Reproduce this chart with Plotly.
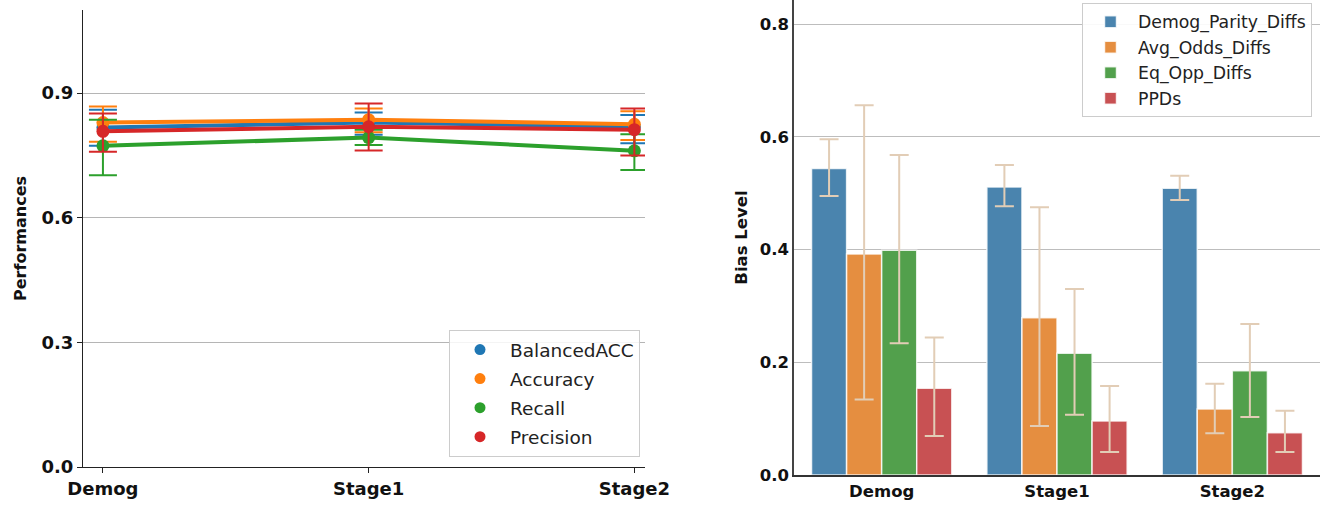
import plotly.graph_objects as go

stages = ["Demog", "Stage1", "Stage2"]

# Left panel: performance metrics (mean, upper, lower)
perf_names = ["BalancedACC", "Accuracy", "Recall", "Precision"]
perf_colors = ["#1f77b4", "#ff7f0e", "#2ca02c", "#d62728"]
bal_acc = [0.817, 0.829, 0.819]
bal_acc_hi = [0.860, 0.853, 0.847]
bal_acc_lo = [0.773, 0.800, 0.779]
accuracy = [0.829, 0.836, 0.825]
accuracy_hi = [0.868, 0.863, 0.856]
accuracy_lo = [0.783, 0.806, 0.787]
recall = [0.773, 0.793, 0.761]
recall_hi = [0.836, 0.812, 0.801]
recall_lo = [0.702, 0.775, 0.715]
precision = [0.808, 0.819, 0.812]
precision_hi = [0.851, 0.875, 0.863]
precision_lo = [0.759, 0.762, 0.750]

# Right panel: bias levels (mean, upper, lower)
bias_names = ["Demog_Parity_Diffs", "Avg_Odds_Diffs", "Eq_Opp_Diffs", "PPDs"]
bias_colors = ["#4a84ae", "#e58e40", "#52a04c", "#c85153"]
demog_parity = [0.544, 0.511, 0.509]
demog_parity_hi = [0.596, 0.550, 0.531]
demog_parity_lo = [0.495, 0.477, 0.488]
avg_odds = [0.392, 0.279, 0.117]
avg_odds_hi = [0.656, 0.475, 0.162]
avg_odds_lo = [0.134, 0.087, 0.074]
eq_opp = [0.399, 0.216, 0.185]
eq_opp_hi = [0.568, 0.330, 0.268]
eq_opp_lo = [0.234, 0.107, 0.103]
ppds = [0.154, 0.096, 0.075]
ppds_hi = [0.244, 0.158, 0.114]
ppds_lo = [0.069, 0.041, 0.041]

perf = [(bal_acc, bal_acc_hi, bal_acc_lo), (accuracy, accuracy_hi, accuracy_lo),
        (recall, recall_hi, recall_lo), (precision, precision_hi, precision_lo)]
bias = [(demog_parity, demog_parity_hi, demog_parity_lo), (avg_odds, avg_odds_hi, avg_odds_lo),
        (eq_opp, eq_opp_hi, eq_opp_lo), (ppds, ppds_hi, ppds_lo)]

FONT = "DejaVu Sans"
fig = go.Figure()

xi = list(range(len(stages)))
for name, color, (m, hi, lo) in zip(perf_names, perf_colors, perf):
    fig.add_trace(go.Scatter(
        x=xi, y=m, mode="lines+markers", xaxis="x", yaxis="y",
        line=dict(color=color, width=4), marker=dict(color=color, size=13),
        error_y=dict(type="data", symmetric=False,
                     array=[h - v for h, v in zip(hi, m)],
                     arrayminus=[v - l for v, l in zip(m, lo)],
                     color=color, thickness=2, width=14),
        showlegend=False, name=name))
for name, color in zip(perf_names, perf_colors):
    fig.add_trace(go.Scatter(x=[None], y=[None], mode="markers", xaxis="x", yaxis="y",
                             marker=dict(color=color, size=11), name=name,
                             legend="legend", legendgroup="p_" + name))

for name, color, (m, hi, lo) in zip(bias_names, bias_colors, bias):
    fig.add_trace(go.Bar(
        x=xi, y=m, xaxis="x2", yaxis="y2", name=name, legend="legend2", legendgroup="b_" + name,
        marker=dict(color=color, line=dict(color="rgba(255,255,255,0.8)", width=1.5)),
        error_y=dict(type="data", symmetric=False,
                     array=[h - v for h, v in zip(hi, m)],
                     arrayminus=[v - l for v, l in zip(m, lo)],
                     color="#e2cdb6", thickness=2, width=9.5)))

tickfont = dict(family=FONT, size=18, color="#111", weight="bold")
tickfont2 = dict(family=FONT, size=16.5, color="#111", weight="bold")
fig.update_layout(
    width=1327, height=508, margin=dict(l=0, r=0, t=0, b=0),
    plot_bgcolor="white", paper_bgcolor="white",
    barmode="group", bargap=0.2, bargroupgap=0,
    font=dict(family=FONT),
    xaxis=dict(domain=[83/1327, 645/1327], range=[-0.075, 2.04], tickvals=xi, ticktext=stages,
               anchor="y", automargin=False,
               showgrid=False, showline=True, linecolor="#222", linewidth=1.2,
               ticks="outside", ticklen=5, tickcolor="#222", tickfont=tickfont, zeroline=False),
    yaxis=dict(domain=[(508-467)/508, (508-10)/508], range=[0, 1.1], anchor="x", automargin=False,
               tickvals=[0, 0.3, 0.6, 0.9], ticktext=["0.0", "0.3", "0.6", "0.9"],
               showgrid=True, gridcolor="#b5b5b5", gridwidth=1,
               showline=True, linecolor="#222", linewidth=1.2,
               ticks="outside", ticklen=5, tickcolor="#222", tickfont=tickfont, zeroline=False,
               title=dict(text="Performances", font=dict(family=FONT, size=16, color="#111", weight="bold"),
                          standoff=10)),
    xaxis2=dict(domain=[794/1327, 1320/1327], range=[-0.5, 2.5], tickvals=xi, ticktext=stages,
                anchor="y2", automargin=False,
                showgrid=False, showline=True, linecolor="#333", linewidth=1.5,
                ticks="", tickfont=tickfont2, zeroline=False),
    yaxis2=dict(domain=[(508-475)/508, 1.0], range=[0, 0.843], anchor="x2", automargin=False,
                tickvals=[0, 0.2, 0.4, 0.6, 0.8], ticktext=["0.0", "0.2", "0.4", "0.6", "0.8"],
                showgrid=True, gridcolor="#bdbdbd", gridwidth=1,
                showline=True, linecolor="#444", linewidth=1.5,
                ticks="", tickfont=tickfont2, zeroline=False,
                title=dict(text="Bias Level", font=dict(family=FONT, size=16.5, color="#111", weight="bold"),
                           standoff=8)),
    legend=dict(x=449/1327, y=(508-330)/508, xanchor="left", yanchor="top",
                bgcolor="rgba(255,255,255,0.85)", bordercolor="#cccccc", borderwidth=1,
                font=dict(family=FONT, size=18.5, color="#222"), itemwidth=50,
                tracegroupgap=2),
    legend2=dict(x=1082/1327, y=(508-3)/508, xanchor="left", yanchor="top",
                 bgcolor="rgba(255,255,255,0.9)", bordercolor="#cccccc", borderwidth=1,
                 font=dict(family=FONT, size=17.3, color="#222"), itemwidth=45,
                 tracegroupgap=0),
)

fig.write_html("out.html")
